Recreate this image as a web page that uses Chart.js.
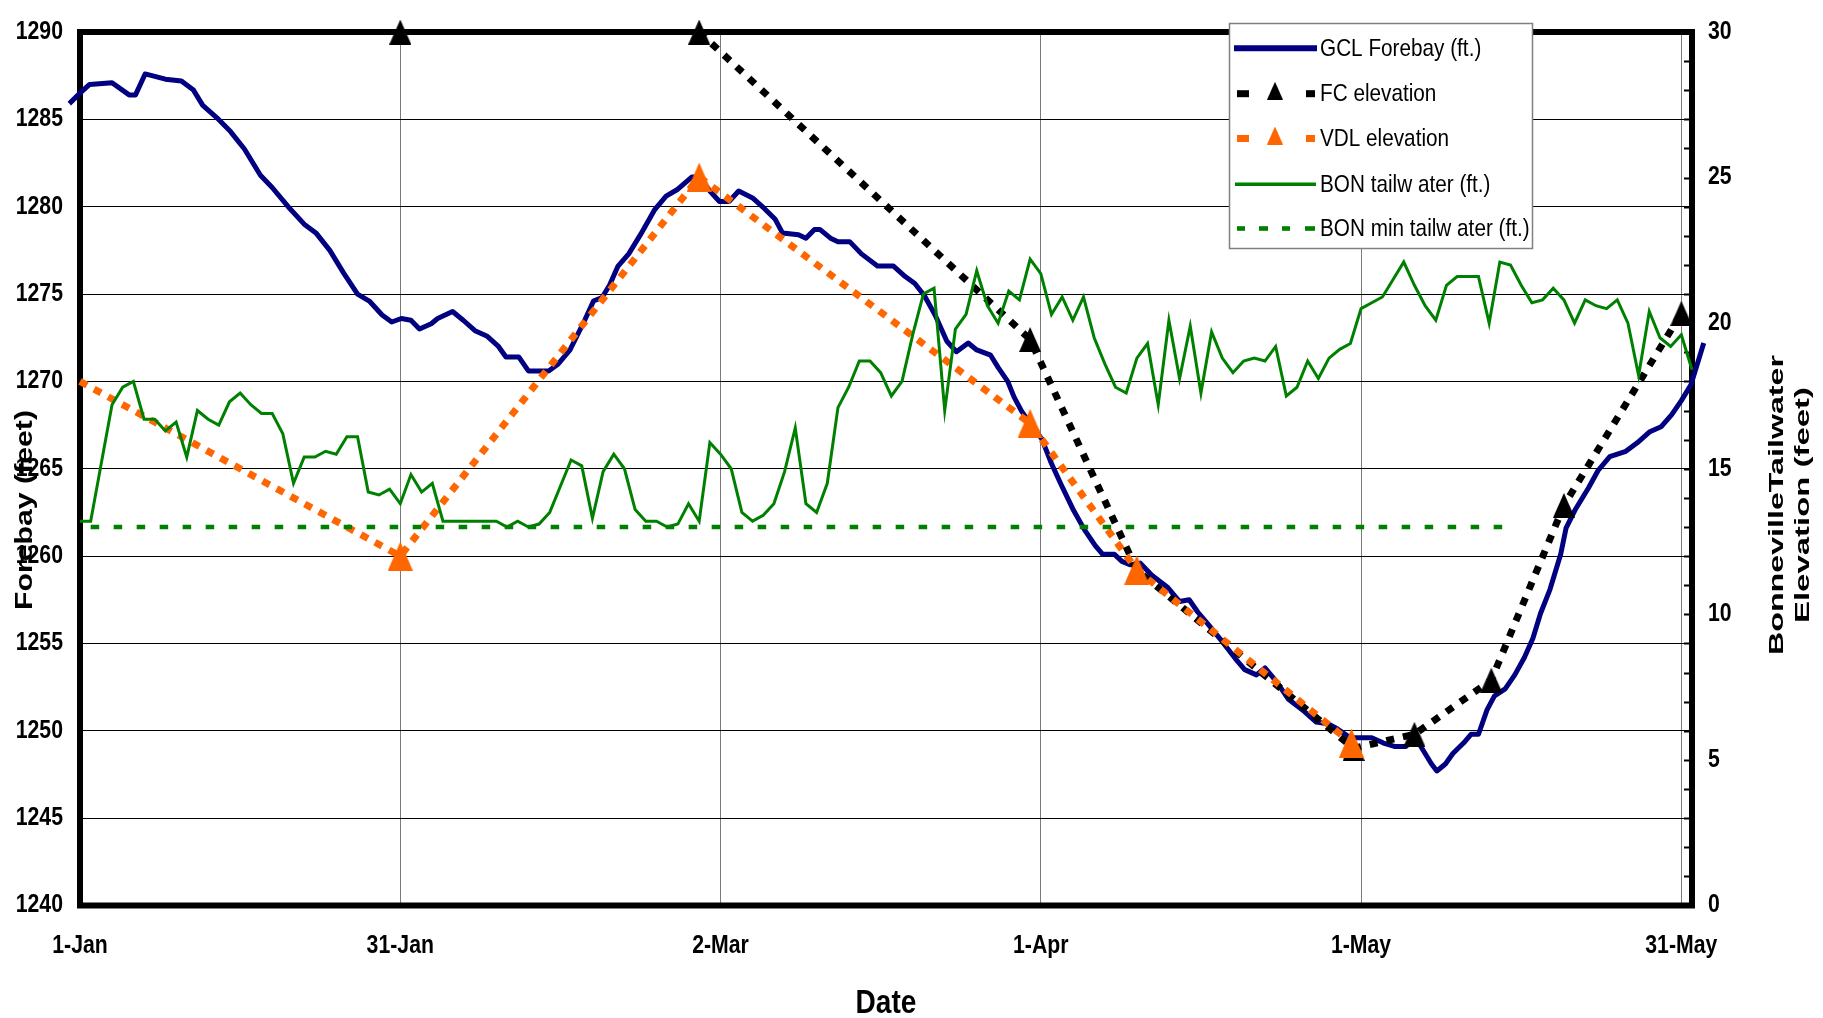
<!DOCTYPE html>
<html>
<head>
<meta charset="utf-8">
<script src="https://cdn.jsdelivr.net/npm/chart.js@4.4.1/dist/chart.umd.min.js"></script>
<style>
html,body{margin:0;padding:0;background:#fff;}
#wrap{width:1823px;height:1018px;position:relative;}
</style>
</head>
<body>
<div id="wrap"><canvas id="c" width="1823" height="1018"></canvas></div>
<script>
// ---------------- DATA ----------------
// x values are day offsets from 1-Jan
const xTickDays = [0, 30, 60, 90, 120, 150];
const xTickLabels = ['1-Jan', '31-Jan', '2-Mar', '1-Apr', '1-May', '31-May'];

const gclDays = [-1,0,0.9,3,4.6,5.2,6.1,8,9.5,10.6,11.5,12.8,14.1,15.4,16.9,18,19.5,21,22.1,23.4,24.7,26,27.1,28.3,29.2,30.1,31,31.8,32.9,33.5,34.9,35.9,37,38.1,39.2,39.9,41.1,42,43.9,44.8,45.9,47.2,48.1,48.9,49.6,50.4,51.4,52.5,53.8,54.9,56,57.3,58,59,59.9,60.8,61.7,63,64.1,65.1,65.8,67.3,68,68.8,69.3,70.3,71,72.1,73.2,74.7,76.2,77.3,78.2,79.1,80.1,81.2,82.1,83.2,84,85.3,86,86.9,87.5,88.2,89.1,90.1,91,91.9,93,94.1,95.1,95.8,96.9,97.6,98.4,99.3,100.4,101.9,103,103.9,104.7,105.8,107,108.4,109.1,110.2,111,112.1,113.2,114.7,115.8,116.9,117.8,119,119.9,121,122.1,123.2,124.2,125.1,125.8,126.6,127.1,127.9,128.6,129.6,130.3,131,131.8,132.5,133.5,134.4,135.3,136.1,136.8,137.7,138.7,139.2,140.1,141.3,142.2,143.3,144.8,145.9,147,148.1,149.1,150,150.9,152.1];
const gclValues = [1285.9,1286.5,1287.0,1287.1,1286.4,1286.4,1287.6,1287.3,1287.2,1286.7,1285.8,1285.1,1284.3,1283.3,1281.8,1281.1,1280.0,1279.0,1278.5,1277.5,1276.2,1275.0,1274.6,1273.8,1273.4,1273.6,1273.5,1273.0,1273.3,1273.6,1274.0,1273.5,1272.9,1272.6,1272.0,1271.4,1271.4,1270.6,1270.6,1271.0,1271.8,1273.4,1274.6,1274.8,1275.5,1276.6,1277.3,1278.4,1279.8,1280.6,1281.0,1281.7,1281.7,1280.9,1280.3,1280.3,1280.9,1280.5,1279.9,1279.3,1278.5,1278.4,1278.2,1278.7,1278.7,1278.2,1278.0,1278.0,1277.3,1276.6,1276.6,1276.0,1275.6,1274.9,1273.8,1272.3,1271.7,1272.2,1271.8,1271.5,1270.8,1270.0,1269.1,1268.3,1267.5,1266.7,1265.3,1264.1,1262.7,1261.5,1260.6,1260.1,1260.1,1259.7,1259.5,1259.6,1258.9,1258.2,1257.4,1257.5,1256.8,1256.0,1255.1,1254.0,1253.5,1253.2,1253.6,1252.8,1251.8,1251.1,1250.5,1250.4,1250.1,1249.6,1249.6,1249.6,1249.3,1249.1,1249.1,1249.6,1248.9,1248.1,1247.7,1248.1,1248.7,1249.3,1249.8,1249.8,1251.2,1252.0,1252.4,1253.2,1254.2,1255.3,1256.7,1258.1,1260.1,1261.6,1262.7,1263.9,1264.9,1265.7,1266.0,1266.5,1267.1,1267.4,1268.1,1268.9,1269.8,1272.2];

const fcDays = [30, 58, 89, 99, 119.3, 125, 132.2, 139, 150];
const fcValues = [1290, 1290, 1272.4, 1259.2, 1249.0, 1249.8, 1252.9, 1262.9, 1273.9];

const vdlDays = [0, 30, 58, 89, 99, 119.1];
const vdlValues = [1270, 1260, 1281.7, 1267.6, 1259.2, 1249.3];

// BON tailwater, one value per day starting 1-Jan (right axis, feet)
const bonValues = [13.2,13.2,15.2,17.2,17.8,18.0,16.7,16.7,16.3,16.6,15.4,17.0,16.7,16.5,17.3,17.6,17.2,16.9,16.9,16.2,
14.5,15.4,15.4,15.6,15.5,16.1,16.1,14.2,14.1,14.3,13.8,14.8,14.2,14.5,13.2,13.2,13.2,13.2,13.2,13.2,
13.0,13.2,13.0,13.1,13.5,14.4,15.3,15.1,13.3,14.9,15.5,15.0,13.6,13.2,13.2,13.0,13.1,13.8,13.2,15.9,
15.5,15.0,13.5,13.2,13.4,13.8,14.9,16.4,13.8,13.5,14.5,17.1,17.8,18.7,18.7,18.3,17.5,18.0,19.6,21.0,
21.2,17.0,19.8,20.3,21.8,20.6,20.0,21.1,20.8,22.2,21.7,20.3,20.9,20.1,20.9,19.5,18.6,17.8,17.6,18.8,
19.3,17.2,20.1,18.1,19.9,17.6,19.7,18.8,18.3,18.7,18.8,18.7,19.2,17.5,17.8,18.7,18.1,18.8,19.1,19.3,
20.5,20.7,20.9,21.5,22.1,21.3,20.6,20.1,21.3,21.6,21.6,21.6,20.0,22.1,22.0,21.3,20.7,20.8,21.2,20.8,
20.0,20.8,20.6,20.5,20.8,20.0,18.2,20.4,19.5,19.2,19.6,18.4];

const bonMinDays = [1, 134];
const bonMinValues = [13, 13];

const seriesLabels = ['GCL Forebay (ft.)', 'FC elevation', 'VDL elevation', 'BON tailw ater (ft.)', 'BON min tailw ater (ft.)'];

// ---------------- STYLE ----------------
// "Arial Narrow" is not installed: text in that family falls back to Liberation Sans and is
// horizontally condensed to imitate the narrow face.
const NARROW = "'Arial Narrow','Liberation Sans',Arial,sans-serif";
const NARROW_SCALE = 0.85;
const WIDE = "'Liberation Sans',Arial,sans-serif";
const NAVY = '#000080', ORANGE = '#FF6600', GREEN = '#008000';

const canvas = document.getElementById('c');
const ctx2d = canvas.getContext('2d');
(function installNarrow(ctx) {
  const orig = ctx.fillText;
  ctx.fillText = function (text, x, y, maxWidth) {
    if (this.font.indexOf('Arial Narrow') >= 0) {
      this.save();
      this.translate(x, y);
      this.scale(NARROW_SCALE, 1);
      orig.call(this, text, 0, 0);
      this.restore();
    } else if (maxWidth !== undefined) {
      orig.call(this, text, x, y, maxWidth);
    } else {
      orig.call(this, text, x, y);
    }
  };
})(ctx2d);

function makeTri(w, h, color) {
  const c = document.createElement('canvas');
  c.width = w; c.height = h;
  const g = c.getContext('2d');
  g.fillStyle = color;
  g.beginPath(); g.moveTo(w / 2, 0); g.lineTo(w, h); g.lineTo(0, h); g.closePath(); g.fill();
  return c;
}
const triBlack = makeTri(22, 25, '#000');
const triOrange = makeTri(25, 29, ORANGE);

const pairs = (xs, ys) => xs.map((x, i) => ({x: x, y: ys[i]}));

// rotated axis title, stretched along its length to the reference length
function drawStretched(ctx, text, baseX, centerY, targetLen) {
  ctx.save();
  ctx.translate(baseX, centerY);
  ctx.rotate(-Math.PI / 2);
  const w0 = ctx.measureText(text).width;
  ctx.scale(targetLen / w0, 1);
  ctx.textAlign = 'center';
  ctx.textBaseline = 'alphabetic';
  ctx.fillText(text, 0, 0);
  ctx.restore();
}

const framePlugin = {
  id: 'frame',
  beforeDraw(chart) {
    const c = chart.ctx;
    c.save(); c.fillStyle = '#fff'; c.fillRect(0, 0, chart.width, chart.height); c.restore();
  },
  beforeDatasetsDraw(chart) {
    const c = chart.ctx, a = chart.chartArea, y2 = chart.scales.y2;
    c.save();
    c.strokeStyle = '#000'; c.lineWidth = 2;
    for (let v = 0; v <= 30; v++) {
      const py = Math.round(y2.getPixelForValue(v)) + 0.5;
      c.beginPath(); c.moveTo(a.right - 8, py); c.lineTo(a.right + 2, py); c.stroke();
    }
    c.strokeStyle = '#000'; c.lineWidth = 6;
    c.strokeRect(a.left, a.top, a.right - a.left, a.bottom - a.top);
    c.restore();
  },
  afterDraw(chart) {
    const c = chart.ctx;
    c.save();
    c.fillStyle = '#000';
    // axis titles
    c.font = "bold 23px " + WIDE;
    drawStretched(c, 'Forebay (feet)', 32, 510, 200);
    c.font = "bold 21px " + WIDE;
    drawStretched(c, 'BonnevilleTailwater', 1783, 505, 300);
    drawStretched(c, 'Elevation (feet)', 1809, 505, 236);
    c.font = "bold 33px " + NARROW;
    c.textAlign = 'center'; c.textBaseline = 'alphabetic';
    c.fillText('Date', 886, 1013);

    // legend
    const L = {x0: 1229, y0: 23, x1: 1532, y1: 248};
    c.fillStyle = '#fff';
    c.fillRect(L.x0, L.y0, L.x1 - L.x0, L.y1 - L.y0);
    c.strokeStyle = '#808080'; c.lineWidth = 1.5;
    c.strokeRect(L.x0 + 0.5, L.y0 + 0.5, L.x1 - L.x0, L.y1 - L.y0);
    const rows = [48.3, 93.7, 138.5, 184.3, 228.5];
    c.strokeStyle = NAVY; c.lineWidth = 6;
    c.beginPath(); c.moveTo(1234, rows[0]); c.lineTo(1317, rows[0]); c.stroke();
    [[rows[1], '#000'], [rows[2], ORANGE]].forEach(([ry, col]) => {
      c.fillStyle = col;
      c.fillRect(1237, ry - 3.5, 12, 7);
      c.fillRect(1306, ry - 3.5, 9, 7);
      c.drawImage(makeTri(16, 18, col), 1267, ry - 12);
    });
    c.strokeStyle = GREEN; c.lineWidth = 3.5;
    c.beginPath(); c.moveTo(1235, rows[3]); c.lineTo(1316, rows[3]); c.stroke();
    c.fillStyle = GREEN;
    [[1237, 8], [1259, 9], [1282, 8], [1305, 10]].forEach(([x, w]) => c.fillRect(x, rows[4] - 2.3, w, 4.6));
    c.fillStyle = '#000';
    c.font = "24.4px " + NARROW;
    c.textAlign = 'left'; c.textBaseline = 'middle';
    seriesLabels.forEach((t, i) => c.fillText(t, 1320, rows[i] + 1));
    c.restore();
  }
};

const tickFont = {family: NARROW, size: 25, weight: 'bold'};

new Chart(canvas, {
  type: 'line',
  data: {
    datasets: [
      {label: seriesLabels[0], data: pairs(gclDays, gclValues), yAxisID: 'y', borderColor: NAVY, borderWidth: 5,
       pointRadius: 0, order: 5, clip: false, borderJoinStyle: 'round'},
      {label: seriesLabels[1], data: pairs(fcDays, fcValues), yAxisID: 'y', borderColor: '#000', borderWidth: 7,
       borderDash: [8, 9], borderCapStyle: 'butt', pointStyle: triBlack, pointRadius: 12, order: 4, clip: false,
       segment: {borderColor: s => s.p0DataIndex === 0 ? 'rgba(0,0,0,0)' : undefined}},
      {label: seriesLabels[2], data: pairs(vdlDays, vdlValues), yAxisID: 'y', borderColor: ORANGE, borderWidth: 7,
       borderDash: [8, 8], borderCapStyle: 'butt', pointStyle: triOrange, pointRadius: [0, 13, 13, 13, 13, 13], order: 3, clip: false},
      {label: seriesLabels[3], data: bonValues.map((v, i) => ({x: i, y: v})), yAxisID: 'y2', borderColor: GREEN, borderWidth: 3,
       pointRadius: 0, order: 2, clip: false},
      {label: seriesLabels[4], data: pairs(bonMinDays, bonMinValues), yAxisID: 'y2', borderColor: GREEN, borderWidth: 4.5,
       borderDash: [8.5, 14.5], pointRadius: 0, order: 1, clip: false}
    ]
  },
  options: {
    responsive: false, animation: false, devicePixelRatio: 1,
    layout: {padding: {top: 21, left: 0, right: 0, bottom: 0}},
    plugins: {legend: {display: false}, tooltip: {enabled: false}},
    elements: {line: {tension: 0}},
    scales: {
      x: {
        type: 'linear', min: 0, max: 151,
        afterBuildTicks: s => { s.ticks = xTickDays.map(v => ({value: v})); },
        afterFit: s => { s.height = 112.5; },
        grid: {color: '#7a7a7a', lineWidth: 1, drawTicks: false},
        border: {display: false},
        ticks: {
          callback: v => { const i = xTickDays.indexOf(v); return i >= 0 ? xTickLabels[i] : ''; },
          font: tickFont, color: '#000', padding: 26, maxRotation: 0, autoSkip: false
        }
      },
      y: {
        position: 'left', min: 1240, max: 1290,
        afterFit: s => { s.width = 80; },
        grid: {color: '#000', lineWidth: 1, drawTicks: false},
        border: {display: false},
        ticks: {stepSize: 5, font: tickFont, color: '#000', padding: 17, callback: v => String(v)}
      },
      y2: {
        position: 'right', min: 0, max: 30,
        afterFit: s => { s.width = 131; },
        grid: {drawOnChartArea: false, drawTicks: false},
        border: {display: false},
        ticks: {stepSize: 5, font: tickFont, color: '#000', padding: 16, callback: v => String(v)}
      }
    }
  },
  plugins: [framePlugin]
});
</script>
</body>
</html>
